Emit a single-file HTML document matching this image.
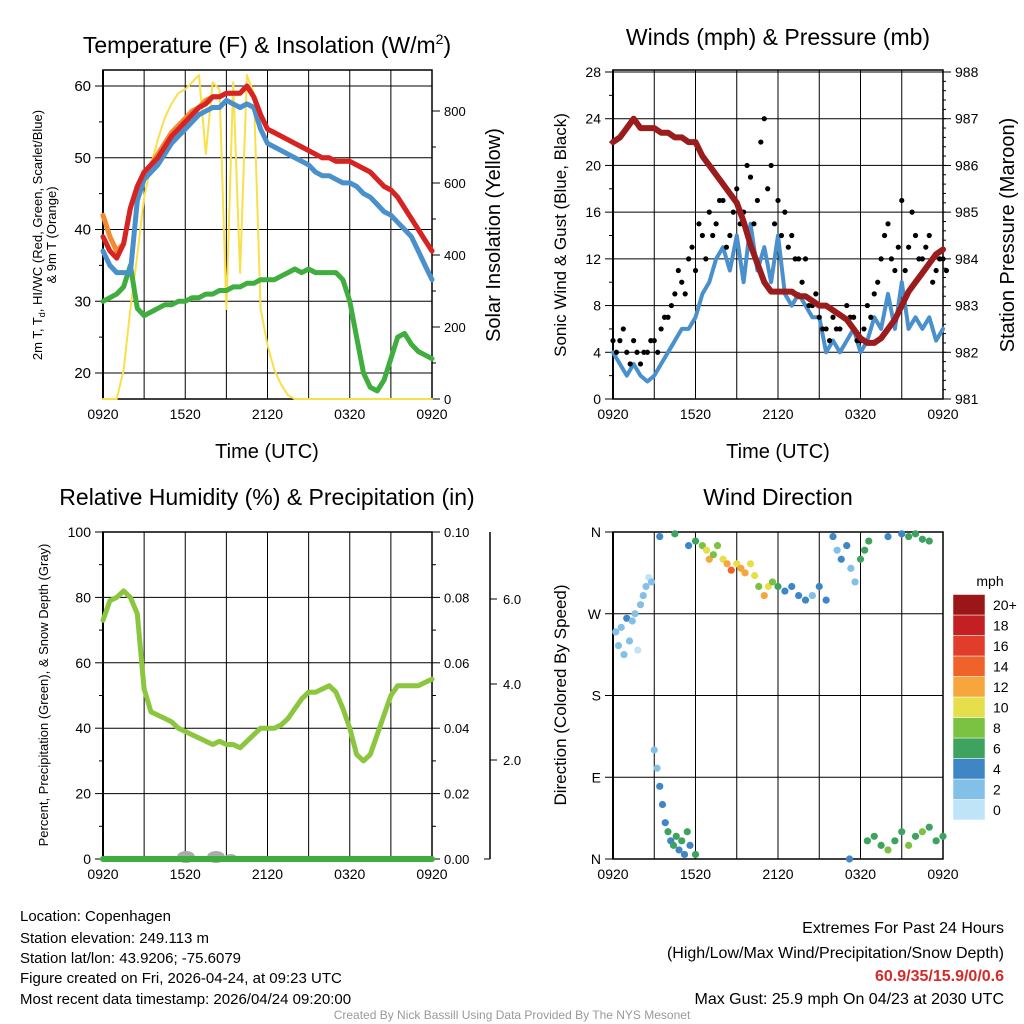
<!DOCTYPE html>
<html><head><meta charset="utf-8"><style>
body{margin:0;background:#fff}
svg{display:block;font-family:"Liberation Sans",Arial,sans-serif}
</style></head><body>
<svg id="c" width="1024" height="1024" viewBox="0 0 1024 1024">
<text x="267" y="53" font-size="23" text-anchor="middle">Temperature (F) &amp; Insolation (W/m<tspan dy="-9" font-size="14">2</tspan><tspan dy="9">)</tspan></text>
<text x="778" y="45" font-size="23" text-anchor="middle">Winds (mph) &amp; Pressure (mb)</text>
<text x="267" y="505" font-size="23" text-anchor="middle">Relative Humidity (%) &amp; Precipitation (in)</text>
<text x="778" y="505" font-size="23" text-anchor="middle">Wind Direction</text>
<text x="267" y="458" font-size="20" text-anchor="middle">Time (UTC)</text>
<text x="778" y="458" font-size="20" text-anchor="middle">Time (UTC)</text>
<text transform="translate(42,235) rotate(-90)" font-size="13" text-anchor="middle">2m T, T<tspan dy="3" font-size="9">d</tspan><tspan dy="-3">, HI/WC (Red, Green, Scarlet/Blue)</tspan></text>
<text transform="translate(56,235) rotate(-90)" font-size="13" text-anchor="middle">&amp; 9m T (Orange)</text>
<text transform="translate(500,235) rotate(-90)" font-size="20" text-anchor="middle">Solar Insolation (Yellow)</text>
<text transform="translate(566,235) rotate(-90)" font-size="17" text-anchor="middle">Sonic Wind &amp; Gust (Blue, Black)</text>
<text transform="translate(1014,235) rotate(-90)" font-size="20" text-anchor="middle">Station Pressure (Maroon)</text>
<text transform="translate(48,695) rotate(-90)" font-size="13" text-anchor="middle">Percent, Precipitation (Green), &amp; Snow Depth (Gray)</text>
<text transform="translate(566,695) rotate(-90)" font-size="17" text-anchor="middle">Direction (Colored By Speed)</text>
<g font-size="15">
<text x="20" y="921">Location: Copenhagen</text>
<text x="20" y="943">Station elevation: 249.113 m</text>
<text x="20" y="963">Station lat/lon: 43.9206; -75.6079</text>
<text x="20" y="983">Figure created on Fri, 2026-04-24, at 09:23 UTC</text>
<text x="20" y="1004">Most recent data timestamp: 2026/04/24 09:20:00</text>
</g>
<g font-size="16" text-anchor="end">
<text x="1004" y="933">Extremes For Past 24 Hours</text>
<text x="1004" y="958">(High/Low/Max Wind/Precipitation/Snow Depth)</text>
<text x="1004" y="981" fill="#d42a2a" font-weight="bold">60.9/35/15.9/0/0.6</text>
<text x="1004" y="1004">Max Gust: 25.9 mph On 04/23 at 2030 UTC</text>
</g>
<text x="512" y="1019" font-size="12" fill="#999" text-anchor="middle">Created By Nick Bassill Using Data Provided By The NYS Mesonet</text>
<g id="g"></g>
</svg>
<script>
// ---- data (time in hours from 0920 UTC) ----
const hrs=[0,0.5,1,1.5,2,2.5,3,3.5,4,4.5,5,5.5,6,6.5,7,7.5,8,8.5,9,9.5,10,10.5,11,11.5,12,12.5,13,13.5,14,14.5,15,15.5,16,16.5,17,17.5,18,18.5,19,19.5,20,20.5,21,21.5,22,22.5,23,23.5,24];
const tempRed=[39,37,36,38,43,46,48,49,50,51.5,53,54,55,56,57,57.5,58.5,58.5,59,59,59,60,58.5,56,54,53.5,53,52.5,52,51.5,51,50.5,50,50,49.5,49.5,49.5,49,48.5,48,47,46,45.5,44.5,43,41.5,40,38.5,37];
const tempOrange=[42,39,37,38,43,46,48,49,50.5,52,53.5,54.5,55.5,56.5,57,58,58.5,58.5,59,59,59,60,58.5,56,54,53.5,53,52.5,52,51.5,51,50.5,50,50,49.5,49.5,49.5,49,48.5,48,47,46,45.5,44.5,43,41.5,40,38.5,37];
const tempBlue=[37,35,34,34,34,44,47,48,49,50.5,52,53,54,55,56,56.5,57,57,58,57.5,57,57.5,57,54,52,51.5,51,50.5,50,49.5,49,48,47.5,47.5,47,46.5,46.5,46,45,44.5,43.5,42.5,42,41,40,39,37,35,33];
const tempGreen=[30,30.5,31,32,35,29,28,28.5,29,29.5,29.5,30,30,30.5,30.5,31,31,31.5,31.5,32,32,32.5,32.5,33,33,33,33.5,34,34.5,34,34.5,34,34,34,34,33,30,25,20,18,17.5,19,22,25,25.5,24,23,22.5,22];
const solar=[0,0,0,80,250,400,560,650,720,780,820,850,860,880,900,680,880,860,250,880,350,900,850,250,150,80,40,10,0,0,0,0,0,0,0,0,0,0,0,0,0,0,0,0,0,0,0,0,0];
const pressure=[986.5,986.6,986.8,987.0,986.8,986.8,986.8,986.7,986.7,986.6,986.6,986.5,986.5,986.2,986.0,985.8,985.6,985.4,985.2,984.8,984.3,983.9,983.5,983.3,983.3,983.3,983.3,983.2,983.2,983.1,983.0,983.0,982.9,982.8,982.7,982.5,982.3,982.2,982.2,982.3,982.5,982.7,983.0,983.3,983.5,983.7,983.9,984.1,984.2];
const sonic=[4,3,2,3,2,1.5,2,3,4,5,6,6,7,9,10,12,13,11,14,10,15,11,13,10,14,9,8,9,8,7,7,4,5,4,5,6,4,5,7,6,9,6,10,6,7,6,7,5,6];
const gust=[5,5,4,5,3,4,5,6,7,9,10,12,11,14,16,15,17,14,18,16,19,17,24,20,17,16,14,12,12,8,7,6,7,6,8,7,5,8,9,12,15,11,17,13,14,12,14,11,12];
const gust2=[4,6,3,4,4,5,4,7,8,11,9,13,15,12,14,17,13,16,15,20,15,22,18,15,14,13,12,10,8,9,6,5,6,7,7,5,6,7,10,14,12,13,11,16,12,13,10,12,11];
const rh=[73,79,80,82,80,75,52,45,44,43,42,40,39,38,37,36,35,36,35,35,34,36,38,40,40,40,41,43,46,49,51,51,52,53,51,46,40,32,30,32,38,44,50,53,53,53,53,54,55];
const dirT=[0.2,0.4,0.6,0.8,1.0,1.2,1.4,1.6,1.8,2.0,2.2,2.4,2.6,2.8,3.0,3.2,3.4,3.6,3.8,4.0,4.2,4.4,4.6,4.8,5.0,5.2,5.4,5.6,6.0,3.4,4.5,5.5,6.0,6.5,6.8,7,7.3,7.6,8,8.3,8.6,9,9.3,9.6,10,10.3,10.6,11,11.3,11.6,12,12.5,13,13.5,14,14.5,15,15.5,16,16.3,16.6,17,17.3,17.6,17.2,18,18.3,18.6,20,21,21.5,22,22.5,23,18.5,19,19.5,20,20.5,21,21.5,22,22.5,23,23.5,24];
const dirV=[250,235,255,225,265,240,262,270,230,280,290,300,310,305,120,100,80,60,40,30,20,15,25,10,20,5,30,15,5,355,358,345,350,345,340,330,335,345,330,325,318,325,320,315,325,312,300,290,300,305,300,295,300,290,285,290,300,285,355,340,330,345,320,305,0,330,340,350,355,358,355,358,352,350,20,25,15,10,20,30,15,25,30,35,20,25];
const dirS=[2,3,2,3,4,2,3,2,1,2,3,2,1,2,2,3,4,4,5,6,4,7,6,5,7,4,6,5,7,5,6,4,7,8,10,12,9,9,11,12,14,10,13,12,11,10,8,13,11,9,6,5,5,4,4,3,5,4,4,3,4,5,3,2,4,6,6,7,4,5,6,7,6,6,6,7,7,8,6,7,8,6,8,7,6,6];
const cbLabels=["0","2","4","6","8","10","12","14","16","18","20+"];
const cbColors=["#bfe4f7","#82c0e8","#3f86c6","#3da35e","#7cc242","#e6df4c","#f6a63c","#ef632a","#e13d2b","#c41f22","#9b1616"];

const NS="http://www.w3.org/2000/svg",G=document.getElementById('g');
function el(t,a,p){const e=document.createElementNS(NS,t);for(const k in a)e.setAttribute(k,a[k]);(p||G).appendChild(e);return e;}
function txt(x,y,s,size,anchor,p){const e=el('text',{x:x,y:y,'font-size':size,'text-anchor':anchor||'middle'},p);e.textContent=s;return e;}
function panel(x0,y0,x1,y1,name){
  const g=el('g',{});
  
  
  const sx=h=>x0+h*(x1-x0)/24;
  for(let h=3;h<24;h+=3)el('line',{x1:sx(h),x2:sx(h),y1:y0,y2:y1,stroke:'#000','stroke-width':1},g);
  ['0920','1520','2120','0320','0920'].forEach((l,i)=>{const t=txt(sx(i*6),y1+20,l,14,'middle',g);});
  return {g,sx};
}
function yscale(yA,yB,vA,vB){return v=>yA+(v-vA)*(yB-yA)/(vB-vA);}
function line(g,xs,ys,color,w,name){const d=xs.map((x,i)=>(i?'L':'M')+x.toFixed(1)+','+ys[i].toFixed(1)).join('');const p=el('path',{d:d,fill:'none',stroke:color,'stroke-width':w,'stroke-linejoin':'round','stroke-linecap':'round'},g);return p;}
function leftAxis(g,x,y0,y1,sy,ticks,labels,minor,fs){
  el('line',{x1:x,x2:x,y1:y0,y2:y1,stroke:'#000','stroke-width':2},g);
  ticks.forEach((v,i)=>{el('line',{x1:x-8,x2:x,y1:sy(v),y2:sy(v),stroke:'#000'},g);txt(x-12,sy(v)+5,labels[i],fs,'end',g);});
  minor.forEach(v=>el('line',{x1:x-4,x2:x,y1:sy(v),y2:sy(v),stroke:'#000'},g));
}
function rightAxis(g,x,sy,ticks,labels,minor,fs){
  ticks.forEach((v,i)=>{el('line',{x1:x,x2:x+8,y1:sy(v),y2:sy(v),stroke:'#000'},g);txt(x+12,sy(v)+5,labels[i],fs,'start',g);});
  minor.forEach(v=>el('line',{x1:x,x2:x+4,y1:sy(v),y2:sy(v),stroke:'#000'},g));
}

// Panel 1: temperature
(function(){
  const X0=103,Y0=70,X1=432,Y1=399;
  const {g,sx}=panel(X0,Y0,X1,Y1,'temperature-panel');
  const sy=yscale(86,373,60,20);const ss=yscale(111,399,800,0);
  [20,30,40,50,60].forEach(v=>el('line',{x1:X0,x2:X1,y1:sy(v),y2:sy(v),stroke:'#000'},g));
  leftAxis(g,X0,Y0,Y1,sy,[20,30,40,50,60],['20','30','40','50','60'],[25,35,45,55],15);
  rightAxis(g,X1,ss,[0,200,400,600,800],['0','200','400','600','800'],[100,300,500,700],13);
  el('rect',{x:X0,y:Y0,width:X1-X0,height:Y1-Y0,fill:'none',stroke:'#000','stroke-width':1.5},g);
  const xs=hrs.map(sx);
  line(g,xs,solar.map(ss),'#f9e04b',2,'solar-line');
  line(g,xs,tempGreen.map(sy),'#3fae3f',5,'dewpoint-line');
  line(g,xs,tempBlue.map(sy),'#4a90cc',5,'windchill-line');
  line(g,xs,tempOrange.map(sy),'#f28a2e',5,'temp-9m-line');
  line(g,xs,tempRed.map(sy),'#d62424',5,'temp-2m-line');
})();

// Panel 2: winds
(function(){
  const X0=613,Y0=70,X1=943,Y1=399;
  const {g,sx}=panel(X0,Y0,X1,Y1,'wind-panel');
  const sy=yscale(72,399,28,0);const sp=yscale(72,399,988,981);
  const t=[0,4,8,12,16,20,24,28];
  t.forEach(v=>el('line',{x1:X0,x2:X1,y1:sy(v),y2:sy(v),stroke:'#000'},g));
  leftAxis(g,X0,Y0,Y1,sy,t,t.map(String),[2,6,10,14,18,22,26],14);
  const pt=[981,982,983,984,985,986,987,988];
  rightAxis(g,X1,sp,pt,pt.map(String),[],14);
  for(let v=981.2;v<988;v+=0.2)el('line',{x1:X1,x2:X1+3,y1:sp(v),y2:sp(v),stroke:'#000'},g);
  el('rect',{x:X0,y:Y0,width:X1-X0,height:Y1-Y0,fill:'none',stroke:'#000','stroke-width':1.5},g);
  const xs=hrs.map(sx);
  line(g,xs,sonic.map(sy),'#4a90cc',4,'sonic-wind-line');
  gust.forEach((v,i)=>{const c=el('circle',{cx:sx(hrs[i]),cy:sy(v),r:2.6,fill:'#000'},g);});
  gust2.forEach((v,i)=>{const c=el('circle',{cx:sx(hrs[i]+0.25),cy:sy(v),r:2.6,fill:'#000'},g);});
  line(g,xs,pressure.map(sp),'#9b1c1c',6,'pressure-line');
})();

// Panel 3: RH
(function(){
  const X0=103,Y0=532,X1=432,Y1=859;
  const {g,sx}=panel(X0,Y0,X1,Y1,'humidity-panel');
  const sy=yscale(532,859,100,0);
  const t=[0,20,40,60,80,100];
  t.forEach(v=>el('line',{x1:X0,x2:X1,y1:sy(v),y2:sy(v),stroke:'#000'},g));
  leftAxis(g,X0,Y0,Y1,sy,t,t.map(String),[10,30,50,70,90],14);
  rightAxis(g,X1,sy,t,['0.00','0.02','0.04','0.06','0.08','0.10'],[10,30,50,70,90],13);
  el('rect',{x:X0,y:Y0,width:X1-X0,height:Y1-Y0,fill:'none',stroke:'#000','stroke-width':1.5},g);
  el('line',{x1:490,x2:490,y1:532,y2:859,stroke:'#000','stroke-width':1.5},g);
  [[760,'2.0'],[684,'4.0'],[599,'6.0']].forEach(a=>{el('line',{x1:490,x2:497,y1:a[0],y2:a[0],stroke:'#000'},g);txt(503,a[0]+5,a[1],13,'start',g);});
  el('line',{x1:484,x2:490,y1:859,y2:859,stroke:'#000'},g);
  el('ellipse',{cx:186,cy:857,rx:9,ry:6,fill:'#aaa'},g);
  el('ellipse',{cx:216,cy:857,rx:9,ry:6,fill:'#aaa'},g);
  el('ellipse',{cx:231,cy:858,rx:6,ry:4,fill:'#aaa'},g);
  const xs=hrs.map(sx);
  line(g,[X0,X1],[sy(0),sy(0)],'#3fae3f',6,'precip-line');
  line(g,xs,rh.map(sy),'#8cc63f',5,'rh-line');
})();

// Panel 4: direction
(function(){
  const X0=613,Y0=532,X1=943,Y1=859;
  const {g,sx}=panel(X0,Y0,X1,Y1,'direction-panel');
  const sy=yscale(532,859,360,0);
  const t=[0,90,180,270,360],lb=['N','E','S','W','N'];
  t.forEach(v=>el('line',{x1:X0,x2:X1,y1:sy(v),y2:sy(v),stroke:'#000'},g));
  leftAxis(g,X0,Y0,Y1,sy,t,lb,[],14);
  el('rect',{x:X0,y:Y0,width:X1-X0,height:Y1-Y0,fill:'none',stroke:'#000','stroke-width':1.5},g);
  dirT.forEach((h,i)=>{const ci=Math.min(10,Math.floor(dirS[i]/2));const c=el('circle',{cx:sx(h),cy:sy(dirV[i]),r:3.6,fill:cbColors[ci]},g);});
  const cb=el('g',{});
  
  
  txt(990,586,'mph',14,'middle',cb);
  const bh=20.5;
  cbLabels.forEach((l,i)=>{const y=820-(i+1)*bh;el('rect',{x:953,y:y,width:32,height:bh,fill:cbColors[i],stroke:'#fff','stroke-width':0.5},cb);txt(993,y+bh/2+5,l,14,'start',cb);});
})();
</script>
</body></html>
